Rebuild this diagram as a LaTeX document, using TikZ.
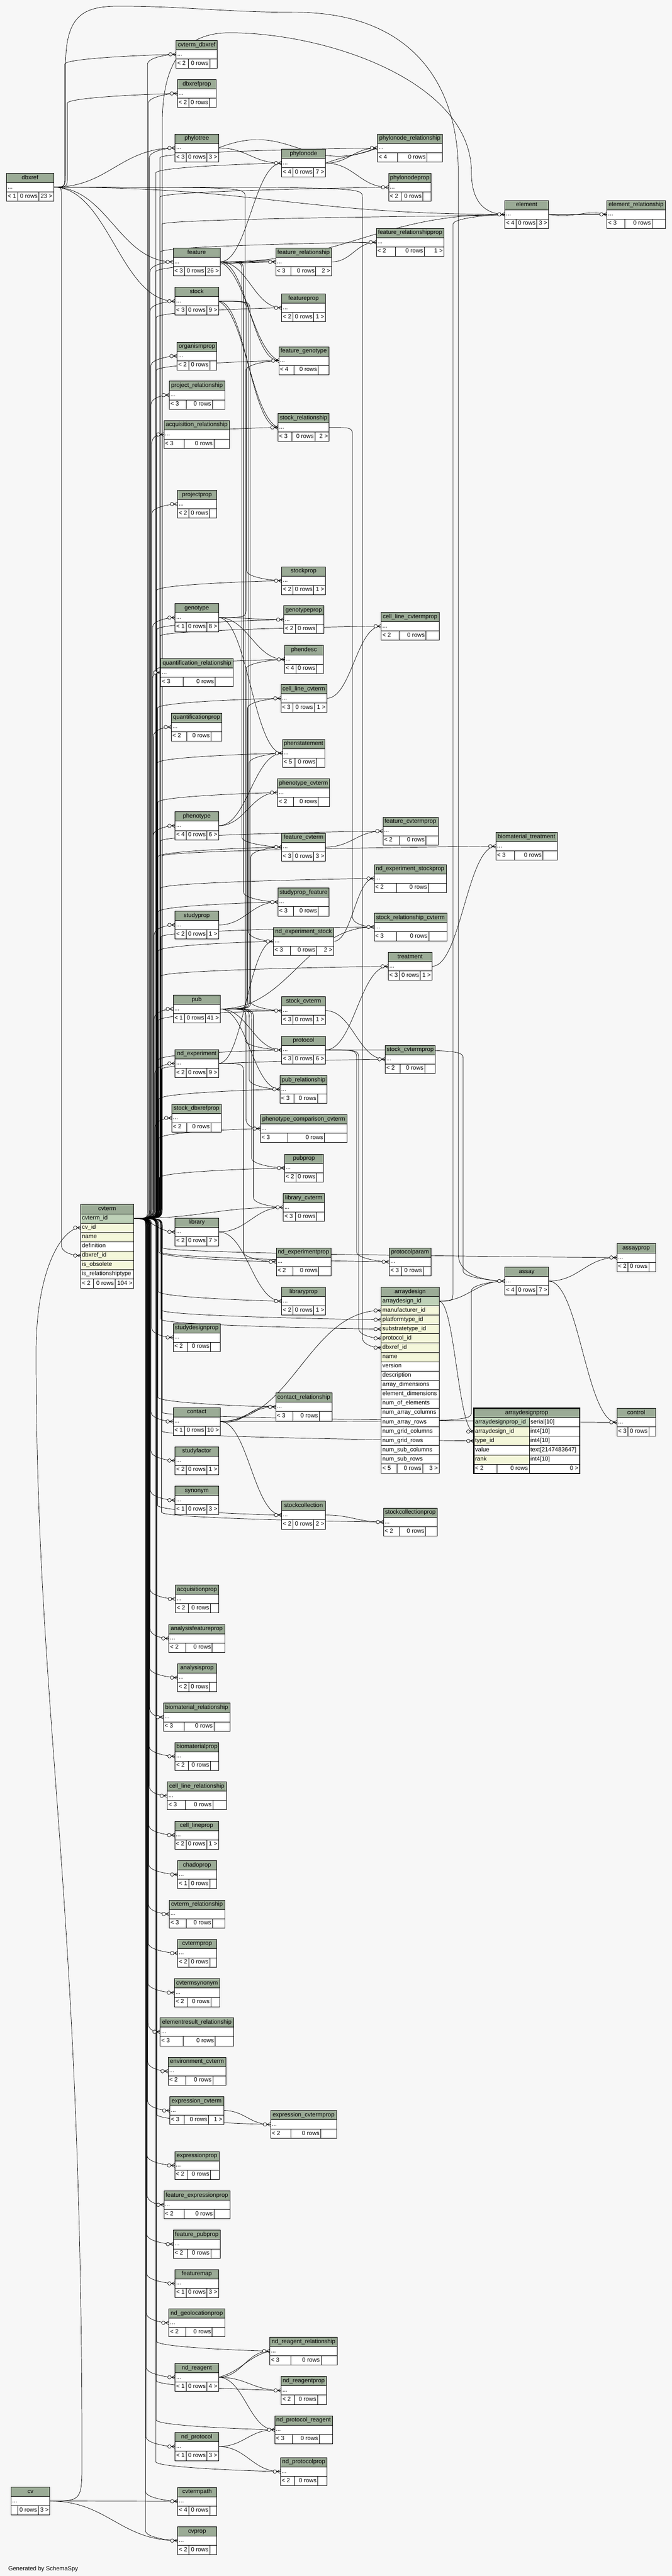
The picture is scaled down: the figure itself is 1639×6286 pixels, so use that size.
\documentclass[tikz,border=0pt]{standalone}
\usepackage{fontspec}
\setmainfont{Liberation Sans}
\usetikzlibrary{positioning,calc,backgrounds}

\definecolor{tblhd}{HTML}{9BAB96}
\definecolor{pkcol}{HTML}{BED1B8}
\definecolor{ixcol}{HTML}{F4F7DA}
\definecolor{bgcol}{HTML}{F7F7F7}

\tikzset{
  tblcell/.style={draw=black, line width=0.8pt, fill=white, inner xsep=3pt, inner ysep=0pt,
    minimum height=22.7pt, outer sep=0pt},
  tblhead/.style={tblcell, fill=tblhd},
  fk/.style={draw=black, line width=0.9pt},
  crow/.style={draw=black, line width=0.9pt},
}

% one column of an opened table
\newcommand{\colrow}[5]{%
  \node[tblcell, fill=#4, anchor=north west] (#1) at (#2.south west)
    {\makebox[\dimexpr#3pt-6pt\relax][l]{\strut #5}};}
% datatype next to a column
\newcommand{\typecell}[4]{%
  \node[tblcell, anchor=north west] (#1) at (#2.north east)
    {\makebox[\dimexpr#3pt-6pt\relax][l]{\strut #4}};}
% zero-or-many end on the left of a row
\newcommand{\crowsfoot}[1]{%
  \draw[crow] ($(#1.west)+(-9,0)$) -- ($(#1.west)+(0,4.5)$)
    ($(#1.west)+(-9,0)$) -- (#1.west)
    ($(#1.west)+(-9,0)$) -- ($(#1.west)+(0,-4.5)$);
  \draw[crow, fill=bgcol] ($(#1.west)+(-13.5,0)$) circle[radius=4.3];}
% footer: < parents | 0 rows | children >
\newcommand{\dbfoot}[5]{%
  \if\relax\detokenize{#4}\relax\def\lw{17}\else\def\lw{28}\fi
  \if\relax\detokenize{#5}\relax\def\rw{17}\else\pgfmathsetmacro{\rw}{#5>99 ? 43 : (#5>9 ? 36 : 29)}\fi
  \pgfmathsetmacro{\ex}{(#3-\lw-\rw-51)/3}
  \pgfmathsetmacro{\lw}{\lw+\ex}
  \pgfmathsetmacro{\mw}{51+\ex}
  \pgfmathsetmacro{\rw}{\rw+\ex}
  \node[tblcell, anchor=north west] (#1-l) at (#2.south west)
    {\makebox[\dimexpr\lw pt-6pt\relax][l]{\strut\if\relax\detokenize{#4}\relax\else< #4\fi}};
  \node[tblcell, anchor=north west] (#1-m) at (#1-l.north east)
    {\makebox[\dimexpr\mw pt-6pt\relax][r]{\strut 0 rows}};
  \node[tblcell, anchor=north west] (#1-r) at (#1-m.north east)
    {\makebox[\dimexpr\rw pt-6pt\relax][r]{\strut\if\relax\detokenize{#5}\relax\else#5 >\fi}};}
% closed table: name, ..., footer
\newcommand{\dbtable}[6]{%
  \node[tblhead, anchor=north west, minimum width=#4pt] (#1-h) at (#2,-#3) {\strut\detokenize{#1}};
  \node[tblcell, anchor=north west] (#1) at (#1-h.south west)
    {\makebox[\dimexpr#4pt-6pt\relax][l]{\strut...}};
  \dbfoot{#1}{#1}{#4}{#5}{#6}%
  \if\relax\detokenize{#5}\relax\else\crowsfoot{#1}\fi}
% connectors
\newcommand{\fk}[2]{\draw[fk] let \p1=(#1.east), \p2=(#2.west), \n1={max(25,0.45*abs(\x2-\x1))} in
  (\p1) .. controls (\x1+\n1,\y1) and (\x2-\n1,\y2) .. (\p2);}
\newcommand{\fkb}[3]{\draw[fk] let \p1=(#1.east), \p2=(#2.west), \n1={max(25,0.45*abs(\x2-\x1))} in
  (\p1) .. controls (\x1+\n1,\y1+#3pt) and (\x2-\n1,\y2-#3pt) .. (\p2);}
\newcommand{\fkup}[3]{\draw[fk] let \p1=(#1.east), \p2=(#2.west) in
  (\p1) .. controls (#3pt,\y1) .. (#3pt,\y1+24pt) -- (#3pt,\y2-24pt)
  .. controls (#3pt,\y2-8pt) and (\x2-20pt,\y2) .. (\p2);}
\newcommand{\fkdn}[3]{\draw[fk] let \p1=(#1.east), \p2=(#2.west) in
  (\p1) .. controls (#3pt,\y1) .. (#3pt,\y1-24pt) -- (#3pt,\y2+24pt)
  .. controls (#3pt,\y2+8pt) and (\x2-20pt,\y2) .. (\p2);}

\begin{document}
\begin{tikzpicture}[x=1pt, y=1pt, font=\fontsize{14.5}{17.4}\selectfont]
\useasboundingbox (0,0) rectangle (1639,-6286);

% dbxref, no parent shown
\node[tblhead, anchor=north west, minimum width=115pt] (dbxref-h) at (15.7,-422.7) {\strut dbxref};
\node[tblcell, anchor=north west] (dbxref) at (dbxref-h.south west) {\makebox[109pt][l]{\strut...}};
\dbfoot{dbxref}{dbxref}{115}{1}{23}
\dbtable{cv}{26.7}{6069}{95}{}{3}

% cvterm, opened
\node[tblhead, anchor=north west, minimum width=129pt] (cvterm-h) at (197,-2939) {\strut cvterm};
\colrow{cvterm-pk}{cvterm-h}{129}{pkcol}{cvterm\_id}
\colrow{cvterm-cv}{cvterm-pk}{129}{ixcol}{cv\_id}
\colrow{cvterm-name}{cvterm-cv}{129}{ixcol}{name}
\colrow{cvterm-def}{cvterm-name}{129}{white}{definition}
\colrow{cvterm-dbx}{cvterm-def}{129}{ixcol}{dbxref\_id}
\colrow{cvterm-obs}{cvterm-dbx}{129}{ixcol}{is\_obsolete}
\colrow{cvterm-rel}{cvterm-obs}{129}{white}{is\_relationshiptype}
\dbfoot{cvterm}{cvterm-rel}{129}{2}{104}
\crowsfoot{cvterm-cv}
\crowsfoot{cvterm-dbx}

% second column
\dbtable{cvterm_dbxref}{429.5}{98.5}{100.5}{2}{}
\dbtable{dbxrefprop}{432.6}{194}{95}{2}{}
\dbtable{phylotree}{427}{327}{106}{3}{3}
\dbtable{feature}{422.6}{605}{114.4}{3}{26}
\dbtable{stock}{426.8}{701}{106.2}{3}{9}
\dbtable{organismprop}{432}{834.7}{97}{2}{}
\dbtable{project_relationship}{413}{930}{135}{3}{}
\dbtable{acquisition_relationship}{399.6}{1026}{160.4}{3}{}
\dbtable{projectprop}{433}{1196}{95}{2}{}
\dbtable{genotype}{427}{1473}{106}{1}{8}
\dbtable{quantification_relationship}{392}{1607}{177}{3}{}
\dbtable{quantificationprop}{418}{1740}{123}{2}{}
\dbtable{phenotype}{427}{1981}{106}{4}{6}
\dbtable{studyprop}{427}{2223}{106}{2}{1}
\dbtable{pub}{422.6}{2428}{114.4}{1}{41}
\dbtable{nd_experiment}{427}{2561}{106}{2}{9}
\dbtable{stock_dbxrefprop}{419}{2694}{121}{2}{}
\dbtable{library}{427}{2972}{106}{2}{7}
\dbtable{studydesignprop}{422.6}{3229.5}{114.4}{2}{}
\dbtable{contact}{422.6}{3434.6}{114.4}{1}{10}
\dbtable{studyfactor}{427}{3530}{106}{2}{1}
\dbtable{synonym}{427}{3626.6}{106}{1}{3}
\dbtable{acquisitionprop}{428}{3867.6}{105}{2}{}
\dbtable{analysisfeatureprop}{412}{3964}{136}{2}{}
\dbtable{analysisprop}{433}{4059.6}{95}{2}{}
\dbtable{biomaterial_relationship}{398.5}{4156}{162.5}{3}{}
\dbtable{biomaterialprop}{427}{4251.6}{107}{2}{}
\dbtable{cell_line_relationship}{408}{4348}{144}{3}{}
\dbtable{cell_lineprop}{426}{4444}{107}{2}{1}
\dbtable{chadoprop}{433.5}{4540}{94.5}{1}{}
\dbtable{cvterm_relationship}{413}{4636.5}{135}{3}{}
\dbtable{cvtermprop}{433.5}{4732}{94.5}{2}{}
\dbtable{cvtermsynonym}{425.4}{4828.5}{110.6}{2}{}
\dbtable{elementresult_relationship}{390.6}{4924}{179}{3}{}
\dbtable{environment_cvterm}{410}{5020}{141}{2}{}
\dbtable{expression_cvterm}{414}{5116}{131.5}{3}{1}
\dbtable{expressionprop}{426}{5250}{109}{2}{}
\dbtable{feature_expressionprop}{399.6}{5346}{161.4}{2}{}
\dbtable{feature_pubprop}{423}{5442}{114}{2}{}
\dbtable{featuremap}{427}{5538}{106}{1}{3}
\dbtable{nd_geolocationprop}{412}{5634}{136}{2}{}
\dbtable{nd_reagent}{427}{5767}{106}{1}{4}
\dbtable{nd_protocol}{427}{5936}{106}{1}{3}
\dbtable{cvtermpath}{433.5}{6069.5}{94.5}{4}{}
\dbtable{cvprop}{433.5}{6165.5}{94.5}{2}{}

% third column
\dbtable{phylonode}{687}{364}{107}{4}{7}
\dbtable{feature_relationship}{672.6}{605}{136}{3}{2}
\dbtable{featureprop}{687}{717}{107}{2}{1}
\dbtable{feature_genotype}{680}{846}{122}{4}{}
\dbtable{stock_relationship}{678}{1009}{125}{3}{2}
\dbtable{stockprop}{687}{1383}{107}{2}{1}
\dbtable{genotypeprop}{692}{1478}{98}{2}{}
\dbtable{phendesc}{694}{1575}{95}{4}{}
\dbtable{cell_line_cvterm}{685}{1670}{112}{3}{1}
\dbtable{phenstatement}{689}{1804}{103}{5}{}
\dbtable{phenotype_cvterm}{677}{1900}{127}{2}{}
\dbtable{feature_cvterm}{687}{2033}{107}{3}{3}
\dbtable{studyprop_feature}{678}{2167}{125}{3}{}
\dbtable{nd_experiment_stock}{667}{2263}{147}{3}{2}
\dbtable{stock_cvterm}{687}{2432}{107}{3}{1}
\dbtable{protocol}{687}{2528}{107}{3}{6}
\dbtable{pub_relationship}{683}{2624}{115}{3}{}
\dbtable{phenotype_comparison_cvterm}{635}{2720}{212}{3}{}
\dbtable{pubprop}{694}{2816}{95}{2}{}
\dbtable{library_cvterm}{691}{2912}{100}{3}{}
\dbtable{nd_experimentprop}{674}{3045}{133}{2}{}
\dbtable{libraryprop}{687}{3141}{107}{2}{1}
\dbtable{contact_relationship}{672.6}{3399}{137}{3}{}
\dbtable{stockcollection}{687}{3663}{107}{2}{2}
\dbtable{expression_cvtermprop}{660}{5150}{161}{2}{}
\dbtable{nd_reagent_relationship}{658}{5703}{165}{3}{}
\dbtable{nd_reagentprop}{686}{5799}{110}{2}{}
\dbtable{nd_protocol_reagent}{670}{5895}{141}{3}{}
\dbtable{nd_protocolprop}{684}{5997}{114}{2}{}

% fourth column
\dbtable{phylonode_relationship}{920.6}{327}{158.4}{4}{}
\dbtable{phylonodeprop}{948}{423}{103}{2}{}
\dbtable{feature_relationshipprop}{918}{557}{165}{2}{1}
\dbtable{cell_line_cvtermprop}{930}{1494}{141}{2}{}
\dbtable{feature_cvtermprop}{934}{1994}{134.6}{2}{}
\dbtable{nd_experiment_stockprop}{912.5}{2109.5}{176}{2}{}
\dbtable{stock_relationship_cvterm}{912.5}{2228}{177.5}{3}{}
\dbtable{treatment}{947}{2324}{107}{3}{1}
\dbtable{stock_cvtermprop}{939.6}{2550.7}{122.2}{2}{}
\dbtable{protocolparam}{949.5}{3045}{101.5}{3}{}
\dbtable{stockcollectionprop}{935.4}{3680}{131.6}{2}{}

% arraydesign, opened
\node[tblhead, anchor=north west, minimum width=141pt] (ad-h) at (930,-3141) {\strut arraydesign};
\colrow{ad-pk}{ad-h}{141}{pkcol}{arraydesign\_id}
\colrow{ad-manu}{ad-pk}{141}{ixcol}{manufacturer\_id}
\colrow{ad-plat}{ad-manu}{141}{ixcol}{platformtype\_id}
\colrow{ad-subs}{ad-plat}{141}{ixcol}{substratetype\_id}
\colrow{ad-prot}{ad-subs}{141}{ixcol}{protocol\_id}
\colrow{ad-dbx}{ad-prot}{141}{ixcol}{dbxref\_id}
\colrow{ad-name}{ad-dbx}{141}{ixcol}{name}
\colrow{ad-ver}{ad-name}{141}{white}{version}
\colrow{ad-desc}{ad-ver}{141}{white}{description}
\colrow{ad-adim}{ad-desc}{141}{white}{array\_dimensions}
\colrow{ad-edim}{ad-adim}{141}{white}{element\_dimensions}
\colrow{ad-nel}{ad-edim}{141}{white}{num\_of\_elements}
\colrow{ad-nac}{ad-nel}{141}{white}{num\_array\_columns}
\colrow{ad-nar}{ad-nac}{141}{white}{num\_array\_rows}
\colrow{ad-ngc}{ad-nar}{141}{white}{num\_grid\_columns}
\colrow{ad-ngr}{ad-ngc}{141}{white}{num\_grid\_rows}
\colrow{ad-nsc}{ad-ngr}{141}{white}{num\_sub\_columns}
\colrow{ad-nsr}{ad-nsc}{141}{white}{num\_sub\_rows}
\dbfoot{ad}{ad-nsr}{141}{5}{3}
\crowsfoot{ad-manu}
\crowsfoot{ad-plat}
\crowsfoot{ad-subs}
\crowsfoot{ad-prot}
\crowsfoot{ad-dbx}

% right side
\dbtable{element}{1231.6}{489}{106.4}{4}{3}
\dbtable{element_relationship}{1480.7}{489}{142.3}{3}{}
\dbtable{biomaterial_treatment}{1209.7}{2031}{149.3}{3}{}
\dbtable{assay}{1231.6}{3092}{106.4}{4}{7}
\dbtable{assayprop}{1504.8}{3034.6}{94.2}{2}{}
\dbtable{control}{1504.8}{3436.6}{94.2}{3}{}

% arraydesignprop, the table this picture is about
\node[tblhead, anchor=north west, minimum width=258pt] (adp-h) at (1156,-3436.6) {\strut arraydesignprop};
\colrow{adp-pk}{adp-h}{135}{pkcol}{arraydesignprop\_id}
\typecell{adp-pk-t}{adp-pk}{123}{serial[10]}
\colrow{adp-ad}{adp-pk}{135}{ixcol}{arraydesign\_id}
\typecell{adp-ad-t}{adp-ad}{123}{int4[10]}
\colrow{adp-type}{adp-ad}{135}{ixcol}{type\_id}
\typecell{adp-type-t}{adp-type}{123}{int4[10]}
\colrow{adp-val}{adp-type}{135}{white}{value}
\typecell{adp-val-t}{adp-val}{123}{text[2147483647]}
\colrow{adp-rank}{adp-val}{135}{ixcol}{rank}
\typecell{adp-rank-t}{adp-rank}{123}{int4[10]}
\node[tblcell, anchor=north west] (adp-l) at (adp-rank.south west) {\makebox[50pt][l]{\strut< 2}};
\node[tblcell, anchor=north west] (adp-m) at (adp-l.north east) {\makebox[73pt][r]{\strut 0 rows}};
\node[tblcell, anchor=north west] (adp-r) at (adp-m.north east) {\makebox[117pt][r]{\strut 0 >}};
\draw[line width=3pt] (adp-h.north west) rectangle (adp-r.south east);
\crowsfoot{adp-ad}
\crowsfoot{adp-type}

\node[anchor=base west] (credit) at (16.7,-6273) {Generated by SchemaSpy};

% ---- connectors, under the tables
\begin{pgfonlayer}{background}
\fill[bgcol] (0,0) rectangle (1639,-6286);

% from dbxref
\fkup{dbxref}{cvterm_dbxref}{158}
\fkup{dbxref}{dbxrefprop}{164}
\fk{dbxref}{phylotree}
\fk{dbxref}{feature}
\fk{dbxref}{stock}
\fk{dbxref}{element}
\fkdn{dbxref}{cvterm-dbx}{150}
\fkdn{dbxref}{protocol}{598}
\fkdn{dbxref}{ad-dbx}{884}
\draw[fk] (dbxref.east) .. controls (160,-457) .. (160,-410) -- (160,-160)
  .. controls (160,-40) and (200,-15) .. (290,-15) .. controls (450,-15) and (550,-30) .. (720,-30)
  .. controls (1000,-30) and (1118,-200) .. (1118,-420) -- (1118,-3060)
  .. controls (1118,-3110) and (1180,-3126) .. (assay.west);

% from cv
\draw[fk] (cv.east) .. controls (200,-6103) .. (200,-6000) .. controls (200,-4600) and (88,-4200) .. (88,-3300)
  .. controls (88,-3100) and (150,-2996) .. (cvterm-cv.west);
\fk{cv}{cvtermpath}
\fk{cv}{cvprop}

% from cvterm, going up
\fkup{cvterm-pk}{cvterm_dbxref}{360}
\fkup{cvterm-pk}{dbxrefprop}{362}
\fkup{cvterm-pk}{phylotree}{364}
\fkup{cvterm-pk}{feature}{366}
\fkup{cvterm-pk}{stock}{366}
\fkup{cvterm-pk}{organismprop}{368}
\fkup{cvterm-pk}{project_relationship}{368}
\fkup{cvterm-pk}{acquisition_relationship}{370}
\fkup{cvterm-pk}{projectprop}{370}
\fkup{cvterm-pk}{genotype}{372}
\fkup{cvterm-pk}{quantification_relationship}{372}
\fkup{cvterm-pk}{quantificationprop}{374}
\fkup{cvterm-pk}{phenotype}{374}
\fkup{cvterm-pk}{studyprop}{376}
\fkup{cvterm-pk}{pub}{376}
\fkup{cvterm-pk}{nd_experiment}{378}
\fkup{cvterm-pk}{stock_dbxrefprop}{378}
\fkup{cvterm-pk}{phylonode}{380}
\fkup{cvterm-pk}{feature_relationship}{380}
\fkup{cvterm-pk}{featureprop}{381}
\fkup{cvterm-pk}{feature_genotype}{381}
\fkup{cvterm-pk}{stock_relationship}{382}
\fkup{cvterm-pk}{stockprop}{382}
\fkup{cvterm-pk}{genotypeprop}{383}
\fkup{cvterm-pk}{phendesc}{383}
\fkup{cvterm-pk}{cell_line_cvterm}{384}
\fkup{cvterm-pk}{phenstatement}{384}
\fkup{cvterm-pk}{phenotype_cvterm}{385}
\fkup{cvterm-pk}{feature_cvterm}{385}
\fkup{cvterm-pk}{studyprop_feature}{386}
\fkup{cvterm-pk}{nd_experiment_stock}{386}
\fkup{cvterm-pk}{stock_cvterm}{387}
\fkup{cvterm-pk}{protocol}{387}
\fkup{cvterm-pk}{pub_relationship}{388}
\fkup{cvterm-pk}{phenotype_comparison_cvterm}{388}
\fkup{cvterm-pk}{pubprop}{389}
\fk{cvterm-pk}{library_cvterm}
\fkup{cvterm-pk}{phylonode_relationship}{390}
\fkup{cvterm-pk}{phylonodeprop}{390}
\fkup{cvterm-pk}{feature_relationshipprop}{391}
\fkup{cvterm-pk}{cell_line_cvtermprop}{391}
\fkup{cvterm-pk}{feature_cvtermprop}{392}
\fkup{cvterm-pk}{nd_experiment_stockprop}{392}
\fkup{cvterm-pk}{stock_relationship_cvterm}{393}
\fkup{cvterm-pk}{treatment}{393}
\fkup{cvterm-pk}{stock_cvtermprop}{394}
\fkup{cvterm-pk}{element_relationship}{395}
\fkup{cvterm-pk}{biomaterial_treatment}{395}
\draw[fk] (cvterm-pk.east) .. controls (396,-2972) .. (396,-2945) -- (396,-300)
  .. controls (396,-150) and (450,-80) .. (560,-80) .. controls (800,-80) and (1150,-200) .. (1150,-420)
  .. controls (1150,-500) and (1190,-523) .. (element.west);

% from cvterm, going down
\fk{cvterm-pk}{library}
\fkdn{cvterm-pk}{nd_experimentprop}{388}
\fkdn{cvterm-pk}{libraryprop}{386}
\fkdn{cvterm-pk}{studydesignprop}{370}
\fkdn{cvterm-pk}{contact_relationship}{385}
\fkdn{cvterm-pk}{contact}{368}
\fkdn{cvterm-pk}{studyfactor}{368}
\fkdn{cvterm-pk}{synonym}{367}
\fkdn{cvterm-pk}{stockcollection}{384}
\fkdn{cvterm-pk}{acquisitionprop}{366}
\fkdn{cvterm-pk}{analysisfeatureprop}{366}
\fkdn{cvterm-pk}{analysisprop}{365}
\fkdn{cvterm-pk}{biomaterial_relationship}{365}
\fkdn{cvterm-pk}{biomaterialprop}{364}
\fkdn{cvterm-pk}{cell_line_relationship}{364}
\fkdn{cvterm-pk}{cell_lineprop}{363}
\fkdn{cvterm-pk}{chadoprop}{363}
\fkdn{cvterm-pk}{cvterm_relationship}{362}
\fkdn{cvterm-pk}{cvtermprop}{362}
\fkdn{cvterm-pk}{cvtermsynonym}{361}
\fkdn{cvterm-pk}{elementresult_relationship}{361}
\fkdn{cvterm-pk}{environment_cvterm}{360}
\fkdn{cvterm-pk}{expression_cvterm}{360}
\fkdn{cvterm-pk}{expression_cvtermprop}{383}
\fkdn{cvterm-pk}{expressionprop}{359}
\fkdn{cvterm-pk}{feature_expressionprop}{359}
\fkdn{cvterm-pk}{feature_pubprop}{358}
\fkdn{cvterm-pk}{featuremap}{358}
\fkdn{cvterm-pk}{nd_geolocationprop}{357}
\fkdn{cvterm-pk}{nd_reagent_relationship}{382}
\fkdn{cvterm-pk}{nd_reagent}{357}
\fkdn{cvterm-pk}{nd_reagentprop}{381}
\fkdn{cvterm-pk}{nd_protocol_reagent}{381}
\fkdn{cvterm-pk}{nd_protocol}{356}
\fkdn{cvterm-pk}{nd_protocolprop}{380}
\fkdn{cvterm-pk}{cvtermpath}{355}
\fkdn{cvterm-pk}{cvprop}{355}
\fkdn{cvterm-pk}{protocolparam}{392}
\fkdn{cvterm-pk}{ad-plat}{393}
\fkdn{cvterm-pk}{ad-subs}{393}
\fkdn{cvterm-pk}{stockcollectionprop}{394}
\fkdn{cvterm-pk}{adp-type}{395}
\fkdn{cvterm-pk}{assayprop}{396}
\fkdn{cvterm-pk}{control}{396}

% from pub
\fkup{pub}{phendesc}{600}
\fkup{pub}{cell_line_cvterm}{604}
\fkup{pub}{phenstatement}{608}
\fkup{pub}{feature_cvterm}{612}
\fk{pub}{stock_relationship_cvterm}
\fk{pub}{stock_cvterm}
\fk{pub}{protocol}
\fk{pub}{pub_relationship}
\fkdn{pub}{pub_relationship}{608}
\fkdn{pub}{phenotype_comparison_cvterm}{600}
\fkdn{pub}{pubprop}{614}
\fkdn{pub}{library_cvterm}{618}

% from feature and stock
\fk{feature}{phylonode}
\fk{feature}{element}
\fk{feature}{feature_relationship}
\fkb{feature}{feature_relationship}{-8}
\fk{feature}{featureprop}
\fk{feature}{feature_genotype}
\fkb{feature}{feature_genotype}{-30}
\fkdn{feature}{feature_cvterm}{590}
\fkdn{feature}{studyprop_feature}{594}
\fk{stock}{stock_relationship}
\fkb{stock}{stock_relationship}{-30}
\fkdn{stock}{stockprop}{602}
\fkdn{stock}{nd_experiment_stock}{606}
\fkdn{stock}{stock_cvterm}{610}

% phylogeny
\fk{phylotree}{phylonode}
\fkb{phylotree}{phylonode_relationship}{70}
\fk{phylonode}{phylonode_relationship}
\fkb{phylonode}{phylonode_relationship}{20}
\fk{phylonode}{phylonodeprop}

% genotype and phenotype
\fkup{genotype}{feature_genotype}{600}
\fk{genotype}{genotypeprop}
\fk{genotype}{phendesc}
\fk{genotype}{phenstatement}
\fk{phenotype}{phenstatement}
\fk{phenotype}{phenotype_cvterm}

% smaller parents
\fk{feature_relationship}{feature_relationshipprop}
\fkdn{stock_relationship}{stock_relationship_cvterm}{860}
\fk{cell_line_cvterm}{cell_line_cvtermprop}
\fk{feature_cvterm}{feature_cvtermprop}
\fk{nd_experiment_stock}{nd_experiment_stockprop}
\fk{studyprop}{studyprop_feature}
\fk{nd_experiment}{nd_experiment_stock}
\fkdn{nd_experiment}{nd_experimentprop}{594}
\fk{stock_cvterm}{stock_cvtermprop}
\fk{protocol}{treatment}
\fkdn{protocol}{protocolparam}{870}
\fkdn{protocol}{ad-prot}{875}
\fkdn{protocol}{assay}{1130}
\fk{treatment}{biomaterial_treatment}
\fk{library}{library_cvterm}
\fk{library}{libraryprop}
\fk{contact}{contact_relationship}
\fkb{contact}{contact_relationship}{-12}
\fk{contact}{stockcollection}
\fk{contact}{ad-manu}
\fkup{contact}{assay}{1150}
\fk{stockcollection}{stockcollectionprop}

% arraydesign and assay
\fk{ad-pk}{assay}
\fkup{ad-pk}{element}{1105}
\fk{ad-pk}{adp-ad}
\fk{element}{element_relationship}
\fkb{element}{element_relationship}{-12}
\fk{assay}{assayprop}
\fk{assay}{control}

% lower part
\fk{expression_cvterm}{expression_cvtermprop}
\fk{nd_reagent}{nd_reagent_relationship}
\fkb{nd_reagent}{nd_reagent_relationship}{15}
\fk{nd_reagent}{nd_reagentprop}
\fk{nd_reagent}{nd_protocol_reagent}
\fk{nd_protocol}{nd_protocol_reagent}
\fk{nd_protocol}{nd_protocolprop}
\end{pgfonlayer}
\end{tikzpicture}
\end{document}
